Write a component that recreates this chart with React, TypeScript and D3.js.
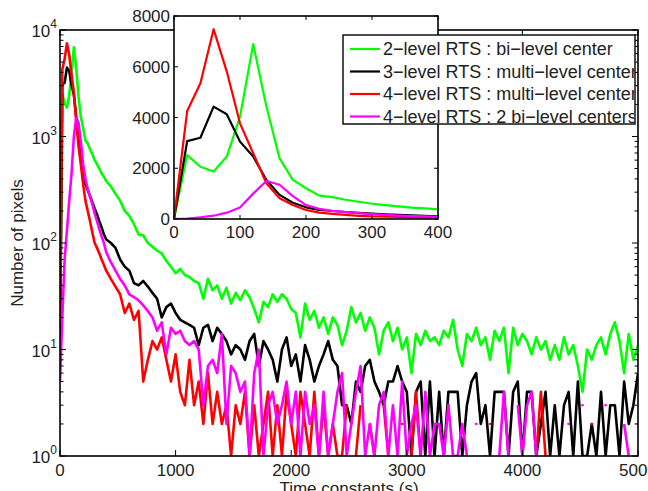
import React from 'react';
import * as d3 from 'd3';

// Legend entries and line colours, in drawing order
const seriesNames = [
  '2\u2212level RTS : bi\u2212level center',
  '3\u2212level RTS : multi\u2212level center',
  '4\u2212level RTS : multi\u2212level center',
  '4\u2212level RTS : 2 bi\u2212level centers',
];
const seriesColors = ['#00ff00', '#000000', '#ff0000', '#ff00ff'];

// Histogram, 20 s bins from 0 to 400 s (shared by the inset and the main plot)
const earlyTimes = d3.range(0, 401, 20);
const greenEarly = [12, 2520, 2060, 1870, 2460, 4030, 6890, 4430, 2390, 1540, 1210, 920, 860, 760, 680, 600, 550, 500, 450, 420, 380];
const blackEarly = [10, 3070, 3200, 4430, 4130, 3050, 2460, 1540, 950, 640, 460, 355, 315, 275, 240, 210, 185, 160, 140, 120, 108];
const redEarly = [17, 4260, 5350, 7480, 5810, 3770, 2590, 1410, 815, 550, 355, 250, 200, 160, 125, 100, 90, 80, 70, 62, 55];
const magentaEarly = [5, 20, 70, 130, 250, 450, 1000, 1500, 1350, 900, 550, 400, 320, 270, 230, 190, 160, 135, 115, 100, 82];

// Histogram tail, 40 s bins from 440 to 5000 s
const tailTimes = d3.range(440, 5001, 40);
const greenTail = [
  340, 290, 250, 200, 180, 150, 120, 118, 100, 92,
  85, 80, 68, 60, 52, 57, 50, 48, 44, 42,
  30, 46, 36, 40, 30, 38, 27, 34, 29, 36,
  31, 24, 18, 28, 25, 33, 28, 33, 30, 24,
  22, 13, 27, 19, 23, 16, 20, 14, 20, 17,
  11, 15, 25, 18, 22, 15, 20, 16, 9, 15,
  18, 12, 16, 10, 13, 6, 14, 11, 15, 12,
  13, 11, 15, 13, 19, 10, 7, 14, 12, 16,
  11, 13, 8, 15, 12, 16, 6, 16, 11, 14,
  12, 9, 13, 10, 12, 8, 11, 8, 13, 9,
  11, 7, 4, 10, 8, 11, 13, 9, 14, 18,
  12, 6, 14, 8, 11,
];
const blackTail = [
  100, 90, 70, 60, 55, 42, 40, 44, 39, 34,
  30, 20, 25, 27, 22, 19, 18, 17, 16, 11,
  16, 17, 12, 16, 14, 12, 9, 11, 10, 8,
  12, 14, 7, 12, 10, 8, 5, 10, 13, 7,
  9, 5, 11, 8, 5, 7, 9, 12, 8, 7,
  3, 3, 2, 5, 4, 7, 8, 5, 4, 3,
  5, 5, 7, 5, 4, 1, 4, 5, 1, 5,
  1, 4, 1, 4, 4, 4, 1, 3, 5, 6,
  2, 3, 1, 4, 4, 4, 1, 4, 5, 1,
  4, 4, 1, 2, 4, 1, 3, 1, 3, 4,
  1, 5, 1, 1, 2, 1, 4, 1, 3, 3,
  1, 5, 2, 3, 6,
];
const redTail = [
  46, 39, 33, 22, 27, 19, 23, 5, 8, 12,
  10, 13, 8, 5, 9, 4, 3, 8, 3, 5,
  2, 6, 2, 4, 2, 3, 1, 3, 2, 4,
  1, 3, 1, 2, 4, 1, 3, 1, 4, 2,
  1, 4, 2, 1, 4, 1, 3, 1, 2, 1,
  1, 3, 0, 1, 3, 0, 2, 1, 0, 3,
  1, 0, 0, 2, 0, 1, 4, 1, 0, 0,
  0, 0, 0, 3, 0, 0, 0, 0, 0, 0,
  0, 0, 2, 0, 0, 0, 0, 0, 0, 0,
  0, 0, 1, 4, 1, 0, 0, 0, 0, 0,
  0, 0, 0, 0, 2, 0, 0, 0, 0, 0,
  0, 0, 0, 0, 0,
];
const magentaTail = [
  66, 55, 46, 40, 33, 31, 29, 26, 23, 20,
  15, 18, 9, 16, 14, 15, 12, 11, 12, 10,
  3, 7, 8, 6, 14, 2, 7, 6, 4, 5,
  1, 6, 10, 1, 3, 4, 2, 3, 5, 2,
  4, 1, 4, 2, 3, 1, 4, 1, 2, 4,
  6, 1, 2, 4, 7, 1, 2, 1, 3, 4,
  1, 3, 1, 5, 1, 2, 3, 1, 4, 1,
  2, 2, 1, 3, 1, 1, 2, 1, 0, 2,
  0, 1, 0, 0, 1, 4, 1, 0, 3, 1,
  3, 4, 1, 0, 0, 0, 0, 0, 0, 2,
  0, 0, 3, 0, 0, 0, 0, 3, 0, 0,
  0, 2, 1, 0, 2,
];

// Axis ticks
const mainXTicks = [0, 1000, 2000, 3000, 4000, 5000];
const mainYExponents = [0, 1, 2, 3, 4];
const insetXTicks = [0, 100, 200, 300, 400];
const insetYTicks = [0, 2000, 4000, 6000, 8000];

type Pt = [number, number];

const zipPts = (ts: number[], vs: number[]): Pt[] =>
  ts.slice(0, vs.length).map((t, i) => [t, vs[i]] as Pt);

const earlySets = [greenEarly, blackEarly, redEarly, magentaEarly];
const tailSets = [greenTail, blackTail, redTail, magentaTail];

const FONT = '"Liberation Sans", Arial, Helvetica, sans-serif';

export default function App() {
  // main plot frame
  const L = 60, R = 638, T = 30, B = 456;
  // inset frame
  const iL = 174, iR = 438, iT = 16, iB = 219;

  const x = d3.scaleLinear().domain([0, 5000]).range([L, R]);
  const y = d3.scaleLog().domain([1, 10000]).range([B, T]);
  const xi = d3.scaleLinear().domain([0, 400]).range([iL, iR]);
  const yi = d3.scaleLinear().domain([0, 8000]).range([iB, iT]);

  const mainLine = d3
    .line<Pt>()
    .defined((d) => d[1] > 0)
    .x((d) => x(d[0]))
    .y((d) => y(d[1]));
  const insetLine = d3
    .line<Pt>()
    .x((d) => xi(d[0]))
    .y((d) => yi(d[1]));

  const mainSeries = earlySets.map((e, k) => [
    ...zipPts(earlyTimes, e),
    ...zipPts(tailTimes, tailSets[k]),
  ]);
  const insetSeries = earlySets.map((e) => zipPts(earlyTimes, e));

  // lone non-zero bins between empty ones
  const isolated = (pts: Pt[]) =>
    pts.filter(
      (d, i) =>
        d[1] > 0 &&
        (i === 0 || pts[i - 1][1] <= 0) &&
        (i === pts.length - 1 || pts[i + 1][1] <= 0)
    );

  const minorY: number[] = [];
  for (let k = 0; k < 4; k++) for (let m = 2; m <= 9; m++) minorY.push(m * Math.pow(10, k));

  const tk = 6;
  const tkMinor = 3.5;
  const tki = 4;

  return (
    <svg
      width={648}
      height={491}
      style={{ position: 'absolute', left: 0, top: 0, background: '#fff' }}
      fontFamily={FONT}
    >
      <defs>
        <clipPath id="mainClip">
          <rect x={L} y={T} width={R - L} height={B - T} />
        </clipPath>
        <clipPath id="insetClip">
          <rect x={iL} y={iT} width={iR - iL} height={iB - iT} />
        </clipPath>
        <clipPath id="legendClip">
          <rect x={343} y={35} width={291} height={89} />
        </clipPath>
      </defs>

      <rect x={0} y={0} width={648} height={491} fill="#fff" />

      {/* main histogram curves */}
      <g clipPath="url(#mainClip)">
        {mainSeries.map((pts, k) => (
          <g key={k}>
            <path
              d={mainLine(pts) || ''}
              fill="none"
              stroke={seriesColors[k]}
              strokeWidth={2.6}
              strokeLinejoin="round"
            />
            {isolated(pts).map((d, j) => (
              <line
                key={j}
                x1={x(d[0]) - 1.3}
                x2={x(d[0]) + 1.3}
                y1={y(d[1])}
                y2={y(d[1])}
                stroke={seriesColors[k]}
                strokeWidth={2}
              />
            ))}
          </g>
        ))}
      </g>

      {/* main axes box and ticks */}
      <g stroke="#000" strokeWidth={1}>
        {mainXTicks.map((t) => (
          <g key={t}>
            <line x1={x(t)} x2={x(t)} y1={B} y2={B - tk} />
            <line x1={x(t)} x2={x(t)} y1={T} y2={T + tk} />
          </g>
        ))}
        {mainYExponents.map((e) => (
          <g key={e}>
            <line x1={L} x2={L + tk} y1={y(Math.pow(10, e))} y2={y(Math.pow(10, e))} />
            <line x1={R} x2={R - tk} y1={y(Math.pow(10, e))} y2={y(Math.pow(10, e))} />
          </g>
        ))}
        {minorY.map((v) => (
          <g key={v}>
            <line x1={L} x2={L + tkMinor} y1={y(v)} y2={y(v)} />
            <line x1={R} x2={R - tkMinor} y1={y(v)} y2={y(v)} />
          </g>
        ))}
        <rect x={L} y={T} width={R - L} height={B - T} fill="none" strokeWidth={1.6} />
      </g>

      {/* main tick labels */}
      <g fontSize={17} fill="#222">
        {mainXTicks.map((t) => (
          <text key={t} x={x(t)} y={476} textAnchor="middle">
            {t}
          </text>
        ))}
        {mainYExponents.map((e) => (
          <text key={e} x={57} y={y(Math.pow(10, e)) + 7} textAnchor="end">
            10
            <tspan fontSize={12} dy={-9}>
              {e}
            </tspan>
          </text>
        ))}
      </g>
      <text x={349} y={494} textAnchor="middle" fontSize={17} fill="#222">
        Time constants (s)
      </text>
      <text
        transform={`translate(23, ${(T + B) / 2}) rotate(-90)`}
        textAnchor="middle"
        fontSize={17}
        fill="#222"
      >
        Number of pixels
      </text>

      {/* inset: linear zoom on the first 400 s */}
      <rect x={iL} y={iT} width={iR - iL} height={iB - iT} fill="#fff" />
      <g clipPath="url(#insetClip)">
        {insetSeries.map((pts, k) => (
          <path
            key={k}
            d={insetLine(pts) || ''}
            fill="none"
            stroke={seriesColors[k]}
            strokeWidth={2.2}
            strokeLinejoin="round"
          />
        ))}
      </g>
      <g stroke="#000" strokeWidth={1}>
        {insetXTicks.map((t) => (
          <g key={t}>
            <line x1={xi(t)} x2={xi(t)} y1={iB} y2={iB - tki} />
            <line x1={xi(t)} x2={xi(t)} y1={iT} y2={iT + tki} />
          </g>
        ))}
        {insetYTicks.map((v) => (
          <g key={v}>
            <line x1={iL} x2={iL + tki} y1={yi(v)} y2={yi(v)} />
            <line x1={iR} x2={iR - tki} y1={yi(v)} y2={yi(v)} />
          </g>
        ))}
        <rect x={iL} y={iT} width={iR - iL} height={iB - iT} fill="none" strokeWidth={1.6} />
      </g>
      <g fontSize={17} fill="#222">
        {insetXTicks.map((t) => (
          <text key={t} x={xi(t)} y={238} textAnchor="middle">
            {t}
          </text>
        ))}
        {insetYTicks.map((v) => (
          <text key={v} x={170} y={yi(v) + 6} textAnchor="end">
            {v}
          </text>
        ))}
      </g>

      {/* legend */}
      <rect x={343} y={35} width={292} height={89} fill="#fff" stroke="#000" strokeWidth={1.4} />
      <g clipPath="url(#legendClip)">
        {seriesNames.map((name, k) => {
          const ry = 49 + k * 22.5;
          return (
            <g key={k}>
              <line x1={350} x2={380} y1={ry} y2={ry} stroke={seriesColors[k]} strokeWidth={2.2} />
              <text x={383} y={ry + 6} fontSize={18} fill="#222">
                {name}
              </text>
            </g>
          );
        })}
      </g>
    </svg>
  );
}
